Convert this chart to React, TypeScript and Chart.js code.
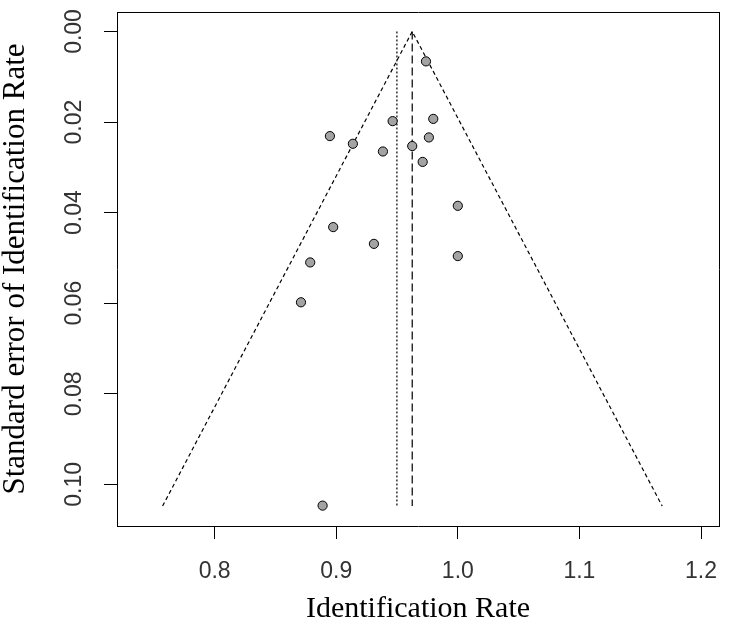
import React, { useEffect, useRef } from "react";
import { Chart, registerables } from "chart.js";

Chart.register(...registerables);

// Study estimates (identification rate) and their standard errors
const studyRates = [0.9738, 0.9464, 0.9798, 0.8948, 0.9762, 0.9137, 0.9625, 0.9384, 0.9711, 1.0, 0.8975, 0.931, 1.0, 0.8786, 0.871, 0.8888];
const studySE = [0.0066, 0.0198, 0.0193, 0.0231, 0.0234, 0.0248, 0.0253, 0.0265, 0.0288, 0.0385, 0.0432, 0.0469, 0.0496, 0.051, 0.0598, 0.1047];

// Funnel (pseudo confidence region)
const funnelRates = [0.7572, 0.9625, 1.1681];
const funnelSE = [0.1048, 0.0, 0.1048];

// Vertical reference lines
const pooledLineRates = [0.9625, 0.9625];
const pooledLineSE = [0.0, 0.1048];
const adjustedLineRates = [0.9499, 0.9499];
const adjustedLineSE = [0.0, 0.1048];

// Axis ticks
const xTickValues = [0.8, 0.9, 1.0, 1.1, 1.2];
const yTickValues = [0.0, 0.02, 0.04, 0.06, 0.08, 0.1];

const xTitle = "Identification Rate";
const yTitle = "Standard error of Identification Rate";

const toPoints = (xs: number[], ys: number[]) => xs.map((x, i) => ({ x, y: ys[i] }));

const zeroPadding = (scale: any) => {
  scale.paddingTop = 0;
  scale.paddingBottom = 0;
  scale.paddingLeft = 0;
  scale.paddingRight = 0;
};

export default function App() {
  const ref = useRef<HTMLCanvasElement | null>(null);

  useEffect(() => {
    if (!ref.current) return;
    const sans = "'Liberation Sans', Arial, sans-serif";
    const serif = "'Liberation Serif', 'Times New Roman', serif";
    const chart = new Chart(ref.current, {
      type: "scatter",
      data: {
        datasets: [
          {
            label: "Studies",
            data: toPoints(studyRates, studySE),
            pointRadius: 4.6,
            pointBackgroundColor: "#a3a3a3",
            pointBorderColor: "#000000",
            pointBorderWidth: 1,
            showLine: false,
          },
          {
            label: "Funnel",
            data: toPoints(funnelRates, funnelSE),
            showLine: true,
            borderColor: "#000000",
            borderWidth: 1.2,
            borderDash: [4, 3],
            pointRadius: 0,
            fill: false,
          },
          {
            label: "Pooled",
            data: toPoints(pooledLineRates, pooledLineSE),
            showLine: true,
            borderColor: "#000000",
            borderWidth: 1.2,
            borderDash: [8, 4],
            pointRadius: 0,
            fill: false,
          },
          {
            label: "Adjusted",
            data: toPoints(adjustedLineRates, adjustedLineSE),
            showLine: true,
            borderColor: "#000000",
            borderWidth: 1.2,
            borderDash: [2, 2],
            pointRadius: 0,
            fill: false,
          },
        ],
      },
      options: {
        animation: false,
        responsive: false,
        layout: { padding: { left: 0, top: 12, right: 11, bottom: 0 } },
        plugins: {
          legend: { display: false },
          tooltip: { enabled: false },
        },
        scales: {
          x: {
            type: "linear",
            position: "bottom",
            min: 0.7197,
            max: 1.2148,
            afterBuildTicks: (scale: any) => {
              scale.ticks = xTickValues.map((v) => ({ value: v }));
            },
            afterFit: (scale: any) => {
              scale.height = 98;
              zeroPadding(scale);
            },
            ticks: {
              font: { family: sans, size: 23 },
              color: "#333333",
              padding: 19,
              maxRotation: 0,
              autoSkip: false,
              callback: (v: any) => Number(v).toFixed(1),
            },
            grid: {
              display: true,
              drawOnChartArea: false,
              drawTicks: true,
              tickLength: 13,
              color: "#000000",
              lineWidth: 1,
            },
            border: { display: true, color: "#000000", width: 1 },
            title: {
              display: true,
              text: xTitle,
              font: { family: serif, size: 30, lineHeight: 1 },
              color: "#000000",
              padding: 0,
            },
          },
          y: {
            type: "linear",
            position: "left",
            reverse: true,
            min: -0.0043,
            max: 0.1092,
            afterBuildTicks: (scale: any) => {
              scale.ticks = yTickValues.map((v) => ({ value: v }));
            },
            afterFit: (scale: any) => {
              scale.width = 117;
              zeroPadding(scale);
            },
            ticks: {
              font: { family: sans, size: 23 },
              color: "#333333",
              padding: 7,
              minRotation: 90,
              maxRotation: 90,
              crossAlign: "center",
              autoSkip: false,
              callback: (v: any) => Number(v).toFixed(2),
            },
            grid: {
              display: true,
              drawOnChartArea: false,
              drawTicks: true,
              tickLength: 13,
              color: "#000000",
              lineWidth: 1,
            },
            border: { display: true, color: "#000000", width: 1 },
            title: {
              display: true,
              text: yTitle,
              font: { family: serif, size: 31, lineHeight: 1 },
              color: "#000000",
              padding: 0,
            },
          },
          x2: {
            type: "linear",
            position: "top",
            min: 0,
            max: 1,
            ticks: { display: false },
            grid: { display: false, drawTicks: false },
            border: { display: true, color: "#000000", width: 1 },
            afterFit: (scale: any) => {
              scale.height = 0;
              zeroPadding(scale);
            },
          },
          y2: {
            type: "linear",
            position: "right",
            min: 0,
            max: 1,
            ticks: { display: false },
            grid: { display: false, drawTicks: false },
            border: { display: true, color: "#000000", width: 1 },
            afterFit: (scale: any) => {
              scale.width = 0;
              zeroPadding(scale);
            },
          },
        },
      } as any,
    });
    return () => chart.destroy();
  }, []);

  return (
    <canvas
      ref={ref}
      width={730}
      height={624}
      style={{ position: "fixed", left: 0, top: 0, width: 730, height: 624, background: "#ffffff" }}
    />
  );
}
